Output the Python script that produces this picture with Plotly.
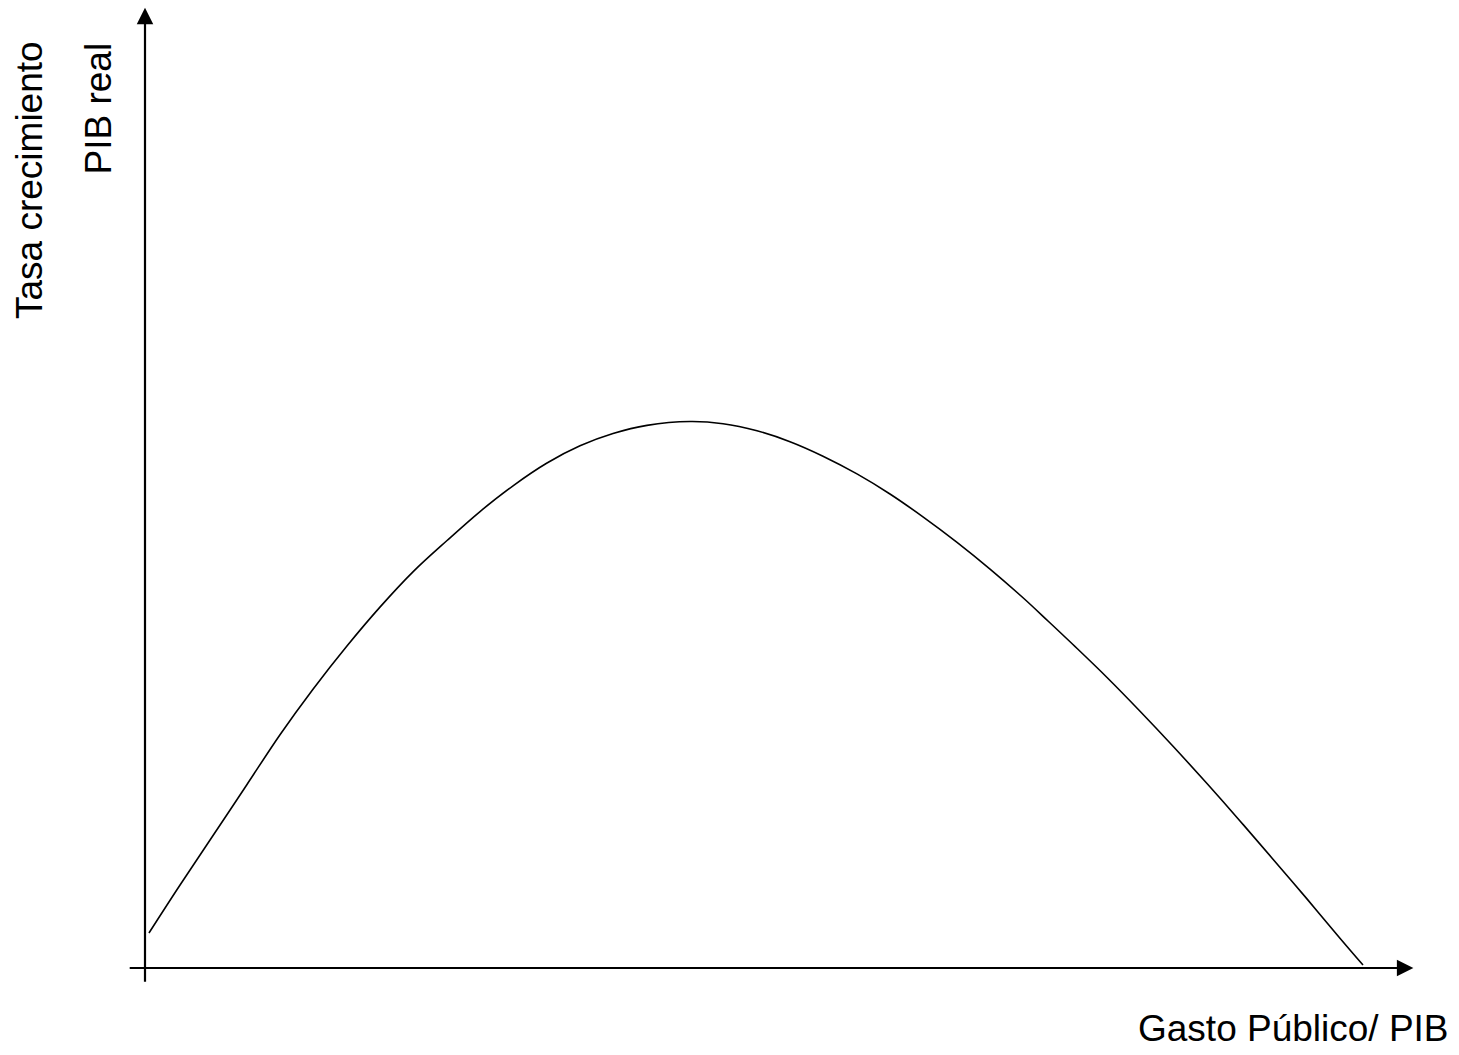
import plotly.graph_objects as go

# Curve (arbitrary units: x = Gasto Público/PIB, y = Tasa crecimiento PIB real)
gasto = [0.33, 2.92, 5.67, 8.5, 11.25, 14.0, 16.83, 19.58, 22.33, 25.17, 27.92, 30.67,
         33.5, 36.25, 39.0, 41.83, 45.42,
         48.17, 51.0, 53.75, 56.5, 59.33, 62.08, 64.83, 67.67, 70.42, 73.17, 75.25,
         77.33, 80.17, 82.92, 85.67, 88.5, 91.25, 94.0, 96.83, 99.58, 101.5]
crecimiento = [3.89, 9.22, 14.72, 20.39, 25.92, 30.98, 35.78, 40.1, 44.02, 47.5, 50.72, 53.58,
               56.11, 58.02, 59.38, 60.29, 60.72,
               60.48, 59.69, 58.48, 56.87, 54.9, 52.67, 50.13, 47.3, 44.33, 41.14, 38.56,
               35.94, 32.28, 28.53, 24.64, 20.49, 16.34, 12.09, 7.68, 3.31, 0.33]

x_label = "Gasto Público/ PIB"
y_label_1 = "Tasa crecimiento"
y_label_2 = "PIB real"

W, H = 1459, 1055
# axis extents (data units)
x_axis_start, x_axis_end = -1.4, 105.7
y_axis_start, y_axis_end = -1.7, 106.7

FONT = "Liberation Sans, Arial, sans-serif"

fig = go.Figure()
fig.add_trace(go.Scatter(
    x=gasto, y=crecimiento, mode="lines",
    line=dict(color="black", width=1.6, shape="spline", smoothing=1.0),
    hoverinfo="skip", showlegend=False,
))

annotations = [
    # x axis arrow
    dict(x=x_axis_end, y=0, ax=x_axis_start, ay=0, xref="x", yref="y", axref="x", ayref="y",
         text="", showarrow=True, arrowhead=2, arrowsize=1.5, arrowwidth=2.2, arrowcolor="black",
         standoff=0, startstandoff=0),
    # y axis arrow
    dict(x=0, y=y_axis_end, ax=0, ay=y_axis_start, xref="x", yref="y", axref="x", ayref="y",
         text="", showarrow=True, arrowhead=2, arrowsize=1.5, arrowwidth=2.2, arrowcolor="black",
         standoff=0, startstandoff=0),
    dict(x=1293.5 / W, y=1 - 1028 / H, xref="paper", yref="paper", text=x_label, showarrow=False,
         font=dict(family=FONT, size=37, color="black"), xanchor="center", yanchor="middle"),
    dict(x=30 / W, y=1 - 180 / H, xref="paper", yref="paper", text=y_label_1, showarrow=False,
         textangle=-90, font=dict(family=FONT, size=37, color="black"), xanchor="center", yanchor="middle"),
    dict(x=98 / W, y=1 - 108.5 / H, xref="paper", yref="paper", text=y_label_2, showarrow=False,
         textangle=-90, font=dict(family=FONT, size=37, color="black"), xanchor="center", yanchor="middle"),
]

fig.update_layout(
    width=W, height=H,
    margin=dict(l=0, r=0, t=0, b=0),
    paper_bgcolor="white", plot_bgcolor="white",
    xaxis=dict(range=[-145 / 12, (W - 145) / 12], visible=False, fixedrange=True),
    yaxis=dict(range=[(968 - H) / 9, 968 / 9], visible=False, fixedrange=True),
    annotations=annotations,
    showlegend=False,
)

fig.write_html("out.html", config={"displayModeBar": False},
               post_script="document.body.style.margin='0';")
